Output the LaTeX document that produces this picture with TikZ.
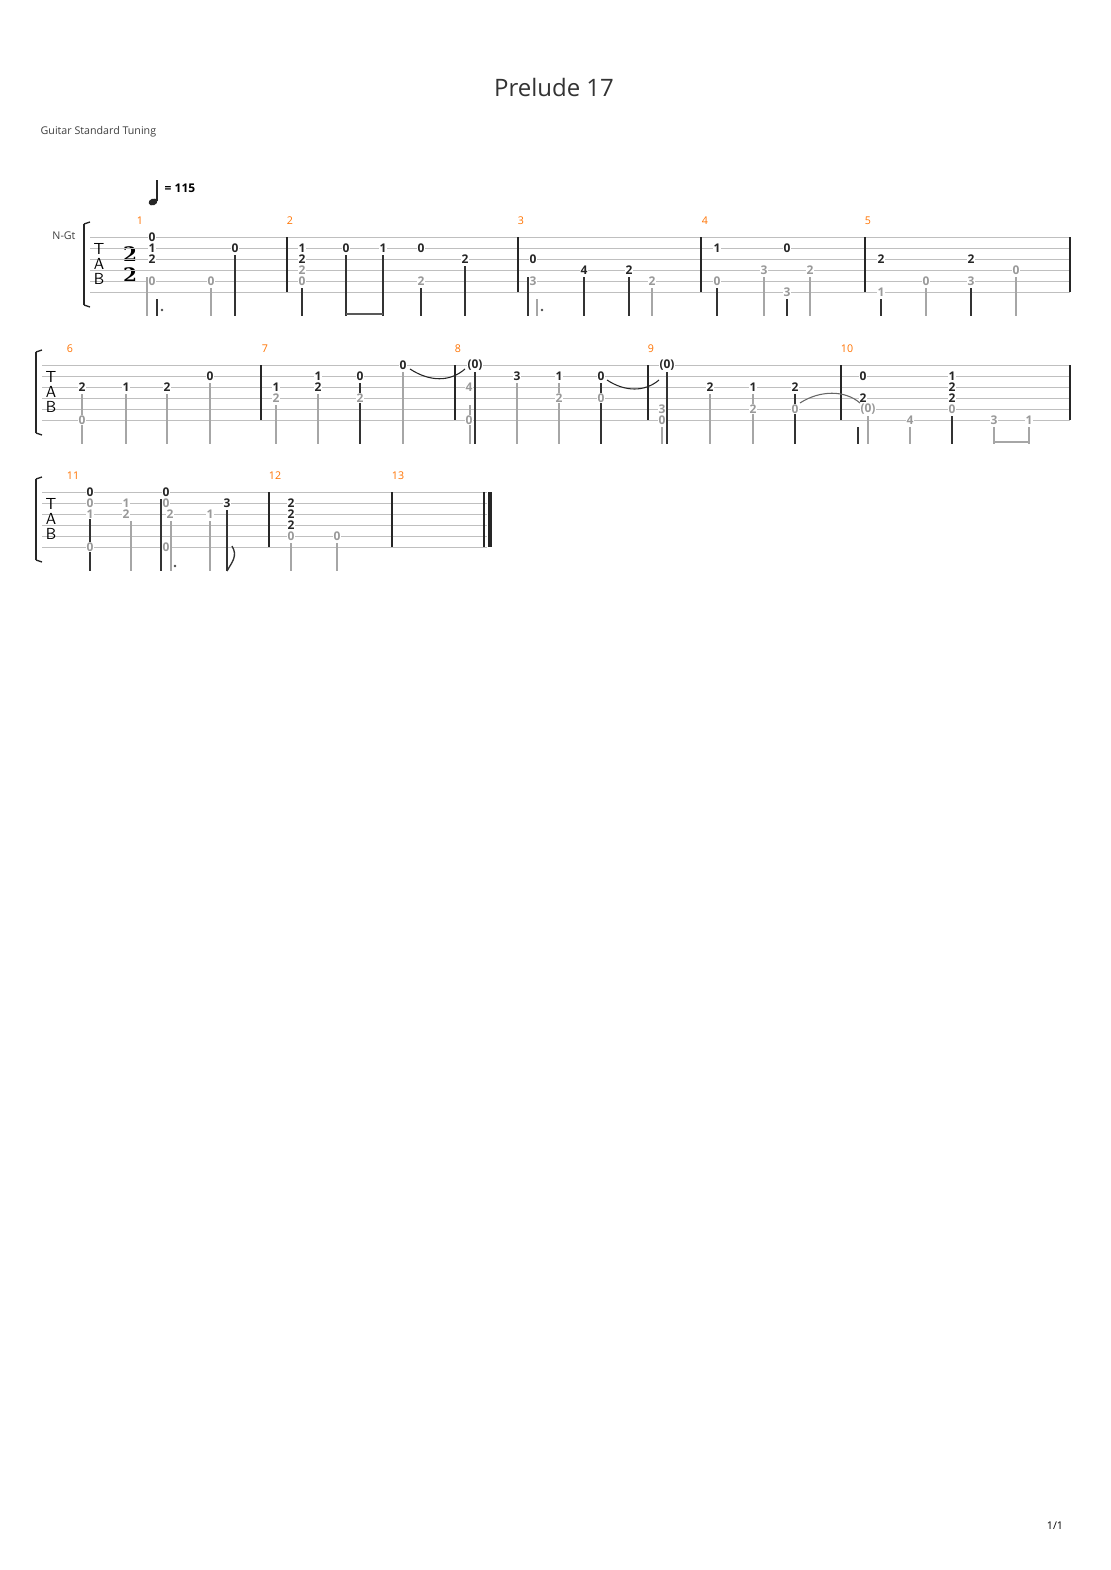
\documentclass[tikz,border=0pt]{standalone}
\usepackage{fontspec}
\setmainfont{Open Sans}
\newfontfamily\sigfont{DejaVu Serif}
\usetikzlibrary{positioning}
\tikzset{fret/.style = {font=\fontsize{9}{9}\selectfont\bfseries, fill=white, inner sep=0.6pt, text=black!85}}
\tikzset{gfret/.style = {fret, text=black!40}}
\tikzset{bar/.style = {font=\fontsize{8}{8}\selectfont, text=orange!90!red}}
\tikzset{stem/.style = {line width=0.8pt, black!80}}
\tikzset{gstem/.style = {line width=0.8pt, black!35}}
\tikzset{tabletter/.style = {font=\sffamily\fontsize{12}{12}\selectfont, inner sep=0}}
\tikzset{sigdigit/.style = {font=\sigfont\fontsize{15}{15}\selectfont\bfseries, inner sep=0}}
\definecolor{sline}{rgb}{0.75, 0.75, 0.75}
% staff: top y, left x, right x
\newcommand{\tabstaff}[3]{%
  \foreach \s in {0,...,5} {\draw [sline, line width=0.6pt] (#2, #1+11*\s) -- (#3, #1+11*\s);}
  \draw [line width=2pt, black!85] (#2-6, #1-13) -- (#2-6, #1+68);
  \draw [line width=1pt, black!85] (#2-6, #1-13) -- (#2, #1-15);
  \draw [line width=1pt, black!85] (#2-6, #1+68) -- (#2, #1+70);
  \node [tabletter] at (#2+9, #1+12) {T};
  \node [tabletter] at (#2+9, #1+27) {A};
  \node [tabletter] at (#2+9, #1+42) {B};}

\begin{document}
\begin{tikzpicture}[x=0.75pt, y=-0.75pt]
      \useasboundingbox [fill=white] (0, 0) rectangle (1110, 1570);

      \node (title) [font=\fontsize{18}{18}\selectfont, text=black!80] at (554, 87) {Prelude 17};
      \node (tuning) [font=\fontsize{8}{8}\selectfont, text=black!75, anchor=west] at (36, 132) {Guitar Standard Tuning};
      \fill [black!85, rotate around={20:(153, 202)}] (153, 202) ellipse [x radius=4.5, y radius=3.3];
      \draw [line width=0.8pt, black!85] (157, 201) -- (157, 180);
      \node (tempo) [font=\fontsize{9}{9}\selectfont\bfseries, anchor=west] at (160, 188) {= 115};
      \node (gt) [font=\fontsize{8}{8}\selectfont, text=black!75] at (64, 236) {N-Gt};
      \node (fracA) [sigdigit] at (130, 254) {2};
      \node (fracB) [sigdigit] at (130, 275) {2};

      \tabstaff{237}{90}{1070}
      \tabstaff{365}{42}{1070}
      \tabstaff{492}{42}{487}

      % barlines and measure numbers
      \foreach \x/\y/\n in {140/237/1, 290/237/2, 521/237/3, 705/237/4, 868/237/5,
                            70/365/6, 265/365/7, 458/365/8, 651/365/9, 847/365/10,
                            73/492/11, 275/492/12, 398/492/13}
        \node (m\n) [bar] at (\x, \y-16) {\n};
      \foreach \x/\y in {287/237, 518/237, 701/237, 865/237, 1070/237,
                         261/365, 455/365, 648/365, 841/365, 1070/365,
                         269/492, 392/492, 484/492}
        \draw [line width=0.8pt, black!85] (\x, \y) -- (\x, \y+55);
      \draw [line width=3pt, black!85] (490, 492) -- (490, 547);

      % stems: x / staff top / lowest string / colour
      \foreach \x/\y/\s/\c in {147/237/4/gstem, 157/237/6/stem, 211/237/5/gstem, 235/237/2/stem,
                            302/237/5/stem, 346/237/2/stem, 383/237/2/stem, 421/237/5/stem,
                            465/237/3/stem, 528/237/4/stem, 537/237/6/gstem, 584/237/4/stem,
                            629/237/4/stem, 652/237/5/gstem, 717/237/5/stem, 764/237/4/gstem,
                            787/237/6/stem, 810/237/4/gstem, 881/237/6/stem, 926/237/5/gstem,
                            971/237/5/stem, 1016/237/4/gstem,
                            82/365/3/gstem, 126/365/3/gstem, 167/365/3/gstem, 210/365/2/gstem,
                            276/365/4/gstem, 318/365/3/gstem, 360/365/2/stem, 403/365/1/gstem,
                            470/365/4/gstem, 475/365/1/stem, 517/365/2/gstem, 559/365/2/gstem,
                            601/365/2/stem, 662/365/6/gstem, 667/365/1/stem, 710/365/3/gstem,
                            753/365/3/gstem, 795/365/3/stem, 858/365/6/stem, 868/365/5/gstem,
                            910/365/6/gstem, 952/365/5/stem, 994/365/6/gstem, 1029/365/6/gstem,
                            90/492/2/stem, 131/492/3/gstem, 161/492/1/stem, 171/492/3/gstem,
                            210/492/3/gstem, 227/492/2/stem, 291/492/5/gstem, 337/492/5/gstem}
        \draw [\c] (\x, \y+11*\s-4) -- (\x, \y+79);
      \draw [line width=2pt, black!65] (346, 314) -- (383, 314);
      \draw [line width=2pt, black!35] (994, 442) -- (1029, 442);
      \draw [line width=1pt, black!80] (227, 571) .. controls (232, 562) and (238, 556) .. (232, 546);
      \foreach \x/\y in {162/310, 542/310, 175/566}
        \fill [black!70] (\x, \y) circle [radius=1.3];

      % frets: x / staff top / string / text / style
      \foreach \x/\y/\s/\t/\st [count=\i] in {
          152/237/1/0/fret, 152/237/2/1/fret, 152/237/3/2/fret, 152/237/5/0/gfret, 211/237/5/0/gfret,
          235/237/2/0/fret,
          302/237/2/1/fret, 302/237/3/2/fret, 302/237/4/2/gfret, 302/237/5/0/gfret, 346/237/2/0/fret,
          383/237/2/1/fret, 421/237/2/0/fret, 421/237/5/2/gfret, 465/237/3/2/fret,
          533/237/3/0/fret, 533/237/5/3/gfret, 584/237/4/4/fret, 629/237/4/2/fret, 652/237/5/2/gfret,
          717/237/2/1/fret, 717/237/5/0/gfret, 764/237/4/3/gfret, 787/237/2/0/fret, 787/237/6/3/gfret,
          810/237/4/2/gfret,
          881/237/3/2/fret, 881/237/6/1/gfret, 926/237/5/0/gfret, 971/237/3/2/fret, 971/237/5/3/gfret,
          1016/237/4/0/gfret,
          82/365/3/2/fret, 82/365/6/0/gfret, 126/365/3/1/fret, 167/365/3/2/fret, 210/365/2/0/fret,
          276/365/3/1/fret, 276/365/4/2/gfret, 318/365/2/1/fret, 318/365/3/2/fret, 360/365/2/0/fret,
          360/365/4/2/gfret, 403/365/1/0/fret,
          475/365/1/(0)/fret, 469/365/3/4/gfret, 469/365/6/0/gfret, 517/365/2/3/fret, 559/365/2/1/fret,
          559/365/4/2/gfret, 601/365/2/0/fret, 601/365/4/0/gfret,
          667/365/1/(0)/fret, 662/365/5/3/gfret, 662/365/6/0/gfret, 710/365/3/2/fret, 753/365/3/1/fret,
          753/365/5/2/gfret, 795/365/3/2/fret, 795/365/5/0/gfret,
          863/365/2/0/fret, 863/365/4/2/fret, 868/365/5/(0)/gfret, 910/365/6/4/gfret, 952/365/2/1/fret,
          952/365/3/2/fret, 952/365/4/2/fret, 952/365/5/0/gfret, 994/365/6/3/gfret, 1029/365/6/1/gfret,
          90/492/1/0/fret, 90/492/2/0/gfret, 90/492/3/1/gfret, 90/492/6/0/gfret, 126/492/2/1/gfret,
          126/492/3/2/gfret, 166/492/1/0/fret, 166/492/2/0/gfret, 170/492/3/2/gfret, 166/492/6/0/gfret,
          210/492/3/1/gfret, 227/492/2/3/fret,
          291/492/2/2/fret, 291/492/3/2/fret, 291/492/4/2/fret, 291/492/5/0/gfret, 337/492/5/0/gfret}
        \node (f\i) [\st] at (\x, \y+11*\s-11) {\t};

      % ties
      \draw [black!85, line width=0.8pt] (410, 369) .. controls (430, 382) and (450, 382) .. (465, 369);
      \draw [black!85, line width=0.8pt] (607, 380) .. controls (625, 392) and (645, 392) .. (659, 380);
      \draw [black!60, line width=0.8pt] (800, 403) .. controls (820, 390) and (845, 390) .. (860, 403);

      \node (page) [font=\fontsize{8}{8}\selectfont] at (1055, 1526) {1/1};
\end{tikzpicture}
\end{document}
